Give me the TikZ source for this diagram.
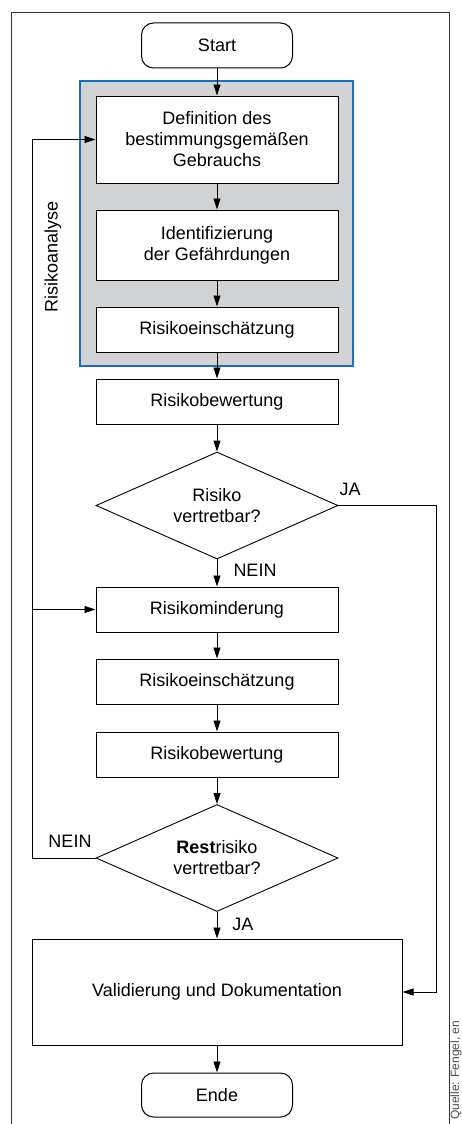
\documentclass[tikz,border=0pt]{standalone}
\usepackage{fontspec}
\setmainfont{Liberation Sans}
\usetikzlibrary{shapes.geometric,arrows.meta}
\definecolor{rahmenblau}{HTML}{1F6DB5}
\definecolor{hgrau}{HTML}{D2D3D5}
\begin{document}
\begin{tikzpicture}[x=1pt,y=-1pt,
  font=\fontsize{18}{21}\selectfont,
  box/.style={draw,fill=white,line width=1pt,minimum width=242pt,minimum height=45pt,inner sep=0pt,align=center},
  term/.style={box,rounded corners=12pt,minimum width=151pt},
  raute/.style={draw,fill=white,diamond,shape aspect=2.26,line width=0.9pt,minimum width=242pt,minimum height=107pt,inner sep=0pt,align=center},
  pfeil/.style={line width=0.9pt,-{Triangle[length=11pt,width=7pt]}}]
\useasboundingbox (0,0) rectangle (462,1124);

% Rahmen
\draw[line width=0.8pt,black!80] (11,1124) -- (11,12) -- (449,12) -- (449,1124);
% Risikoanalyse
\draw[fill=hgrau,draw=rahmenblau,line width=2pt] (80,81) rectangle (353,366);
\node(ra) at (53,257)[rotate=90]{Risikoanalyse};

\node(start) at (217,45.5)[term]{Start};
\node(def) at (217,139.5)[box,minimum height=87pt]{Definition des\\bestimmungsgemäßen\\Gebrauchs};
\node(ident) at (217,245)[box,minimum height=70pt]{Identifizierung\\der Gefährdungen};
\node(ein) at (217,329.5)[box]{Risikoeinschätzung};
\node(bew) at (217,401.5)[box]{Risikobewertung};
\node(ok) at (217,505.5)[raute]{Risiko\\vertretbar?};
\node(mind) at (217,609.5)[box]{Risikominderung};
\node(ein2) at (217,681.5)[box]{Risikoeinschätzung};
\node(bew2) at (217,754.5)[box]{Risikobewertung};
\node(rest) at (217,858)[raute]{\textbf{Rest}risiko\\vertretbar?};
\node(val) at (217,992)[box,minimum width=370pt,minimum height=106pt]{Validierung und Dokumentation};
\node(ende) at (217,1095)[term,minimum height=44pt]{Ende};

\node(ja1) at (350,489) {JA};
\node(nein1) at (255,570) {NEIN};
\node(nein2) at (70,841) {NEIN};
\node(ja2) at (243,924) {JA};

\coordinate(rk) at (436,505.5);
\coordinate(lk) at (32,858);
\coordinate(ab) at (32,609.5);

\draw[pfeil] (start) -- (def);
\draw[pfeil] (def) -- (ident);
\draw[pfeil] (ident) -- (ein);
\draw[pfeil] (ein) -- (bew);
\draw[pfeil] (bew) -- (ok);
\draw[pfeil] (ok) -- (mind);
\draw[pfeil] (mind) -- (ein2);
\draw[pfeil] (ein2) -- (bew2);
\draw[pfeil] (bew2) -- (rest);
\draw[pfeil] (rest) -- (val);
\draw[pfeil] (val) -- (ende);

% JA / NEIN Zweige
\draw[pfeil] (ok.east) -- (rk) |- (val.east);
\draw[pfeil] (rest.west) -- (lk) |- (def.west);
\draw[pfeil] (ab) -- (mind.west);

\node(quelle) at (459,1120)[rotate=90,anchor=base west,font=\fontsize{12}{14}\selectfont,text=black!70,inner sep=0pt]{Quelle: Fengel, en};
\end{tikzpicture}
\end{document}
